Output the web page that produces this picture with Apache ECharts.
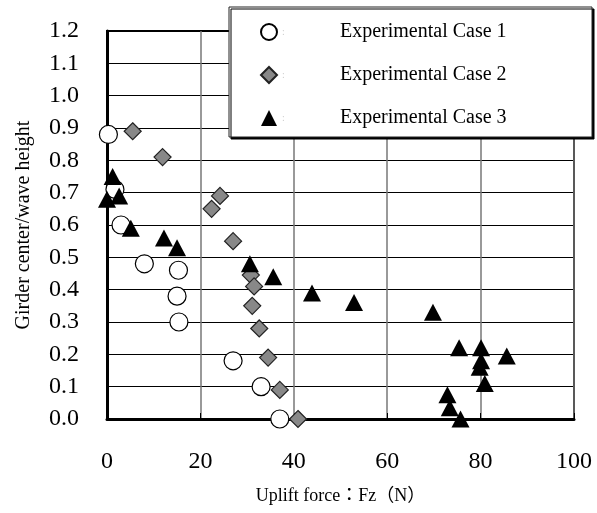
<!DOCTYPE html>
<html>
<head>
<meta charset="utf-8">
<script src="https://cdn.jsdelivr.net/npm/echarts@6/dist/echarts.min.js"></script>
<style>html,body{margin:0;padding:0;background:#fff}#c{width:597px;height:513px}</style>
</head>
<body>
<div id="c"></div>
<script>
var seriesNames = ['Experimental Case 1', 'Experimental Case 2', 'Experimental Case 3'];
var xTicks = [0, 20, 40, 60, 80, 100];
var yTicks = [0.0, 0.1, 0.2, 0.3, 0.4, 0.5, 0.6, 0.7, 0.8, 0.9, 1.0, 1.1, 1.2];

var case1X = [0.3, 1.7, 3.0, 8.0, 15.3, 15.0, 15.4, 27.0, 33.0, 37.0];
var case1Y = [0.88, 0.71, 0.60, 0.48, 0.46, 0.38, 0.30, 0.18, 0.10, 0.00];

var case2X = [5.5, 11.9, 24.2, 22.4, 27.0, 30.8, 31.5, 31.1, 32.6, 34.5, 37.0, 40.9];
var case2Y = [0.89, 0.81, 0.69, 0.65, 0.55, 0.445, 0.41, 0.35, 0.28, 0.19, 0.09, 0.00];

var case3X = [1.2, 0.0, 2.6, 5.1, 12.2, 15.0, 30.6, 35.6, 43.9, 52.9, 69.8, 75.4, 80.1, 85.6, 80.1, 79.8, 80.9, 72.9, 73.4, 75.7];
var case3Y = [0.75, 0.68, 0.69, 0.59, 0.56, 0.53, 0.48, 0.44, 0.39, 0.36, 0.33, 0.22, 0.22, 0.195, 0.18, 0.16, 0.11, 0.075, 0.035, 0.00];

function pairs(xs, ys) { return xs.map(function (x, i) { return [x, ys[i]]; }); }

var serif = '"Liberation Serif", "Times New Roman", serif';
var chart = echarts.init(document.getElementById('c'), null, {renderer: 'canvas'});
chart.setOption({
  animation: false,
  backgroundColor: '#fff',
  grid: {left: 107, top: 31, width: 467, height: 388, show: true, borderColor: '#000', borderWidth: 2, backgroundColor: 'transparent'},
  xAxis: {
    type: 'value', min: xTicks[0], max: xTicks[xTicks.length - 1], interval: 20,
    name: 'Uplift force：Fz（N）', nameLocation: 'middle', nameGap: 68,
    nameTextStyle: {fontFamily: serif + ', "Noto Sans CJK JP"', fontSize: 18, color: '#000'},
    axisLine: {show: true, lineStyle: {color: '#000', width: 3}},
    axisTick: {show: true, inside: true, length: 6, lineStyle: {color: '#000'}},
    axisLabel: {fontFamily: serif, fontSize: 24, color: '#000', margin: 31},
    splitLine: {show: true, lineStyle: {color: '#777', width: 1.5}}
  },
  yAxis: {
    type: 'value', min: yTicks[0], max: yTicks[yTicks.length - 1], interval: 0.1,
    name: 'Girder center/wave height', nameLocation: 'middle', nameGap: 73,
    nameTextStyle: {fontFamily: serif, fontSize: 20, color: '#000'},
    axisLine: {show: true, lineStyle: {color: '#000', width: 3}},
    axisTick: {show: true, inside: true, length: 8, lineStyle: {color: '#000'}},
    axisLabel: {fontFamily: serif, fontSize: 24, color: '#000', margin: 28,
      formatter: function (v) { return v.toFixed(1); }},
    splitLine: {show: true, lineStyle: {color: '#000', width: 1}}
  },
  legend: {
    orient: 'vertical', left: 229, top: 7,
    padding: [15, 5, 9, 31],
    itemWidth: 16, itemHeight: 16, itemGap: 23,
    backgroundColor: '#fff', borderColor: '#222', borderWidth: 1,
    shadowColor: '#000', shadowOffsetX: 2, shadowOffsetY: 2, shadowBlur: 0,
    data: seriesNames,
    formatter: function (name) { return '{c|:}{b|' + name + '}'; },
    textStyle: {
      rich: {
        c: {color: '#ccc', fontSize: 10, width: 58, fontFamily: serif},
        b: {color: '#000', fontSize: 20, width: 247, fontFamily: serif, lineHeight: 20}
      }
    }
  },
  series: [
    {
      name: seriesNames[0], type: 'scatter', clip: false,
      symbol: 'circle', symbolSize: 18,
      itemStyle: {color: '#fff', borderColor: '#000', borderWidth: 1.2, opacity: 1},
      data: pairs(case1X, case1Y)
    },
    {
      name: seriesNames[1], type: 'scatter', clip: false,
      symbol: 'diamond', symbolSize: 17,
      itemStyle: {color: '#888', borderColor: '#222', borderWidth: 1.2, opacity: 1},
      data: pairs(case2X, case2Y)
    },
    {
      name: seriesNames[2], type: 'scatter', clip: false,
      symbol: 'triangle', symbolSize: [18, 17],
      itemStyle: {color: '#000', borderColor: '#000', borderWidth: 0, opacity: 1},
      data: pairs(case3X, case3Y)
    }
  ]
});
</script>
</body>
</html>
